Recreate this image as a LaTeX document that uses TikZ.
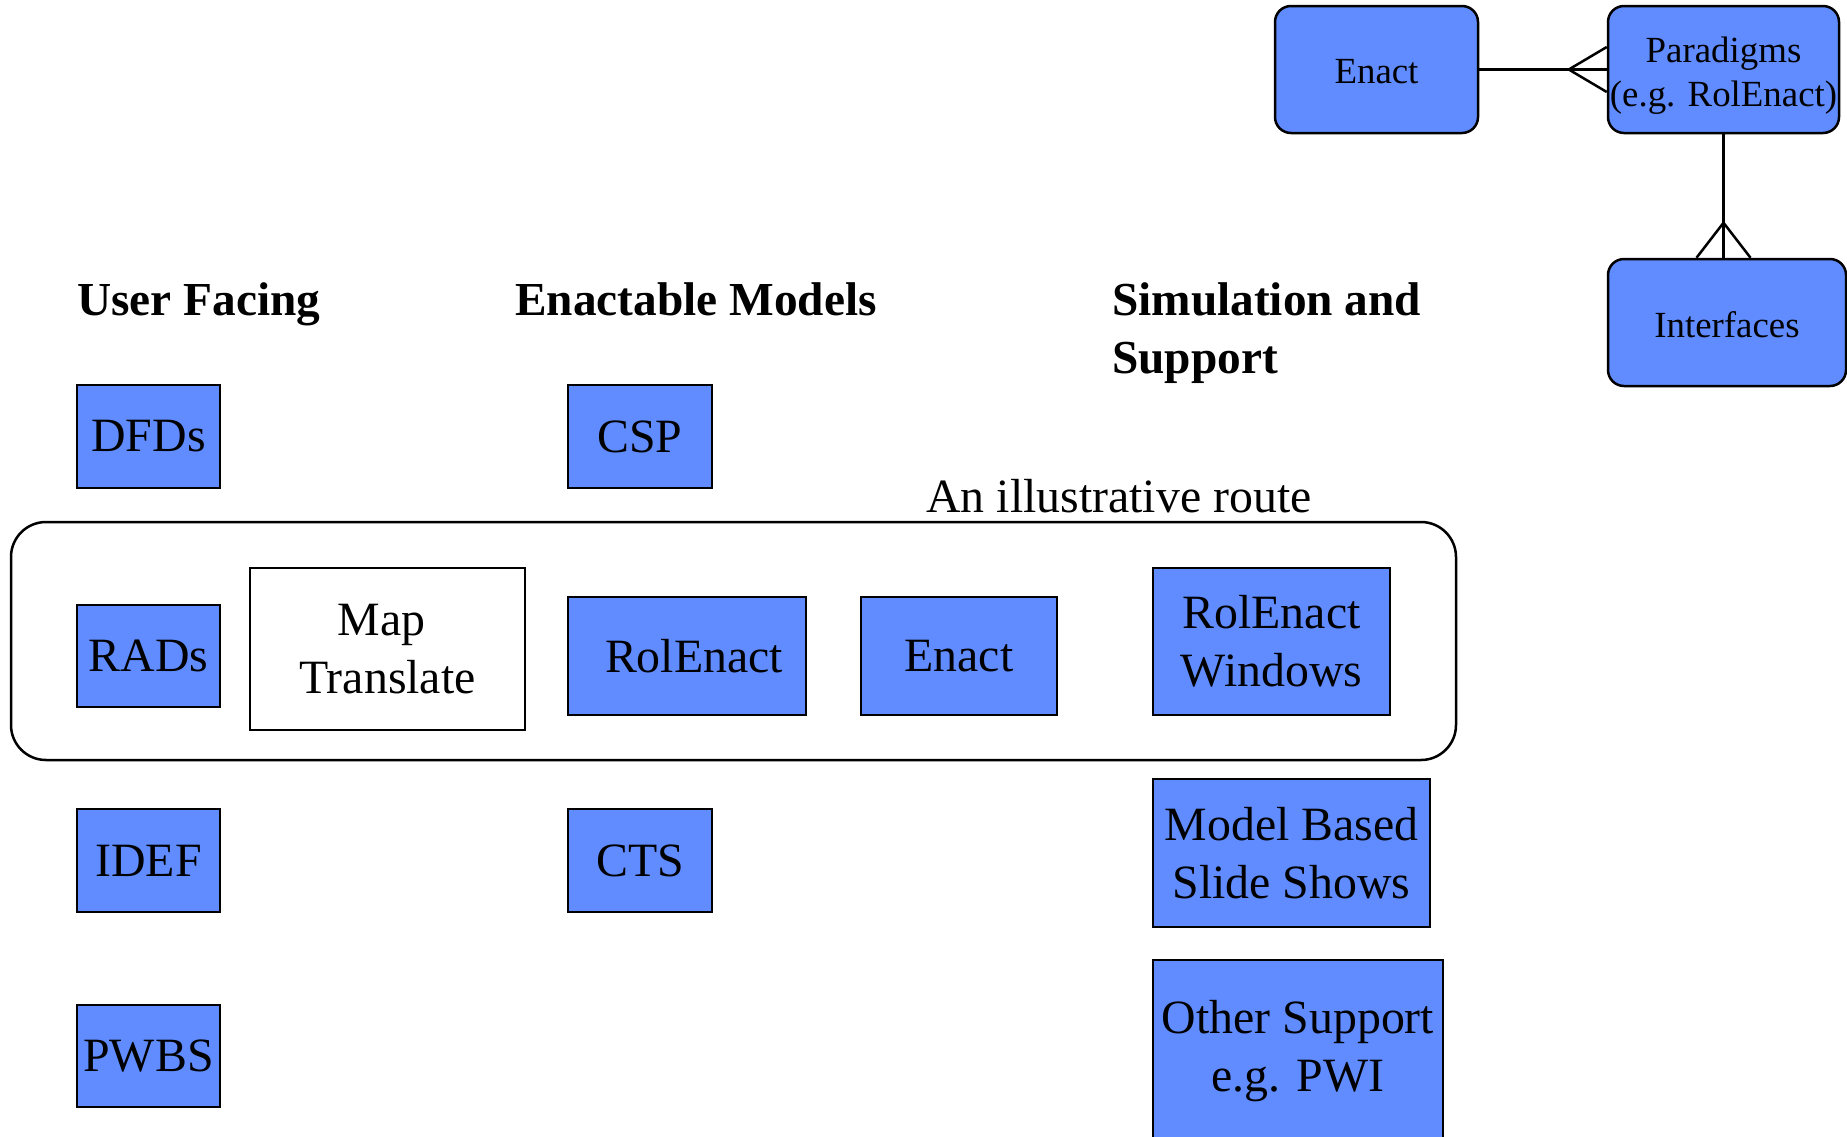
\documentclass[tikz,border=0pt]{standalone}
\usepackage{fontspec}
\setmainfont{Liberation Serif}
\definecolor{boxblue}{RGB}{96,140,255}
\begin{document}
\begin{tikzpicture}[x=1bp,y=-1bp,
  bluebox/.style={draw=black,line width=2.5bp,fill=boxblue,inner sep=1bp,align=center,
    font=\fontsize{48}{58}\selectfont},
  plainbox/.style={draw=black,line width=2.5bp,fill=white,inner sep=1bp,align=center,
    font=\fontsize{48}{58}\selectfont},
  erbox/.style={draw=black,line width=2.5bp,fill=boxblue,rounded corners=16bp,inner sep=0bp,
    font=\fontsize{37}{45}\selectfont},
  header/.style={anchor=west,inner sep=0pt,align=left,font=\fontsize{47.5}{58}\selectfont\bfseries},
  conn/.style={line width=2.5bp}]
\clip (0,0) rectangle (1847,1136);
\useasboundingbox (0,0) rectangle (1847,1136);
\fill[white] (0,0) rectangle (1847,1136);

% headers
\node[header] (hUser) at (77,304) {User Facing};
\node[header] (hEnact) at (515,299) {Enactable Models};
\node[header] (hSim) at (1112,333) {Simulation and\\Support};

% route frame
\draw[line width=2.5bp,rounded corners=35bp] (11,522) rectangle (1456,760);
\node[inner sep=0pt,font=\fontsize{48}{58}\selectfont] (route) at (1119,496) {An illustrative route};

% left column
\node[bluebox,minimum width=143bp,minimum height=103bp] (dfd) at (148.5,436.5) {DFDs};
\node[bluebox,minimum width=143bp,minimum height=102bp] (rad) at (148.5,656) {RADs};
\node[bluebox,minimum width=143bp,minimum height=103bp] (idef) at (148.5,860.5) {IDEF};
\node[bluebox,minimum width=143bp,minimum height=102bp] (pwbs) at (148.5,1056) {PWBS};

% middle
\node[plainbox,minimum width=275bp,minimum height=162bp] (map) at (387.5,649) {Map\hspace*{12bp}\\Translate};
\node[bluebox,minimum width=144bp,minimum height=103bp] (csp) at (640,436.5) {CSP};
\node[bluebox,minimum width=238bp,minimum height=118bp] (rol) at (687,656) {\hspace*{14bp}RolEnact};
\node[bluebox,minimum width=144bp,minimum height=103bp] (cts) at (640,860.5) {CTS};
\node[bluebox,minimum width=196bp,minimum height=118bp] (enm) at (959,656) {Enact};

% right column
\node[bluebox,minimum width=237bp,minimum height=147bp] (rolw) at (1271.5,641.5) {RolEnact\\Windows};
\node[bluebox,minimum width=277bp,minimum height=148bp] (mbss) at (1291.5,853) {Model Based\\Slide Shows};
\node[bluebox,minimum width=290bp,minimum height=182bp] (other) at (1298,1051) {Other Support\\e.g. PWI};

% ER diagram
\node[erbox,minimum width=203bp,minimum height=127bp] (pe) at (1376.5,69.5) {\raisebox{-2.5bp}[\height][\depth]{Enact}};
\node[erbox,minimum width=231bp,minimum height=127bp] (pp) at (1723.5,69.5)
  {\raisebox{-6bp}[\height][\depth]{\setlength{\tabcolsep}{0pt}\begin{tabular}{c}Paradigms\\(e.g. RolEnact)\end{tabular}}};
\node[erbox,minimum width=238bp,minimum height=127bp] (pi) at (1727,322.5) {\raisebox{-2.5bp}[\height][\depth]{Interfaces}};

\draw[conn] (pe.east) -- (pp.west);
\path (pp.west) ++(-38,0) coordinate (cfA);
\draw[conn] ([yshift=22.5bp]pp.west) -- (cfA) -- ([yshift=-22.5bp]pp.west);

\coordinate (piTop) at (pp.south |- pi.north);
\draw[conn] (pp.south) -- (piTop);
\path (piTop) ++(0,-35) coordinate (cfB);
\draw[conn] ([xshift=-27bp]piTop) -- (cfB) -- ([xshift=27bp]piTop);
\end{tikzpicture}
\end{document}
